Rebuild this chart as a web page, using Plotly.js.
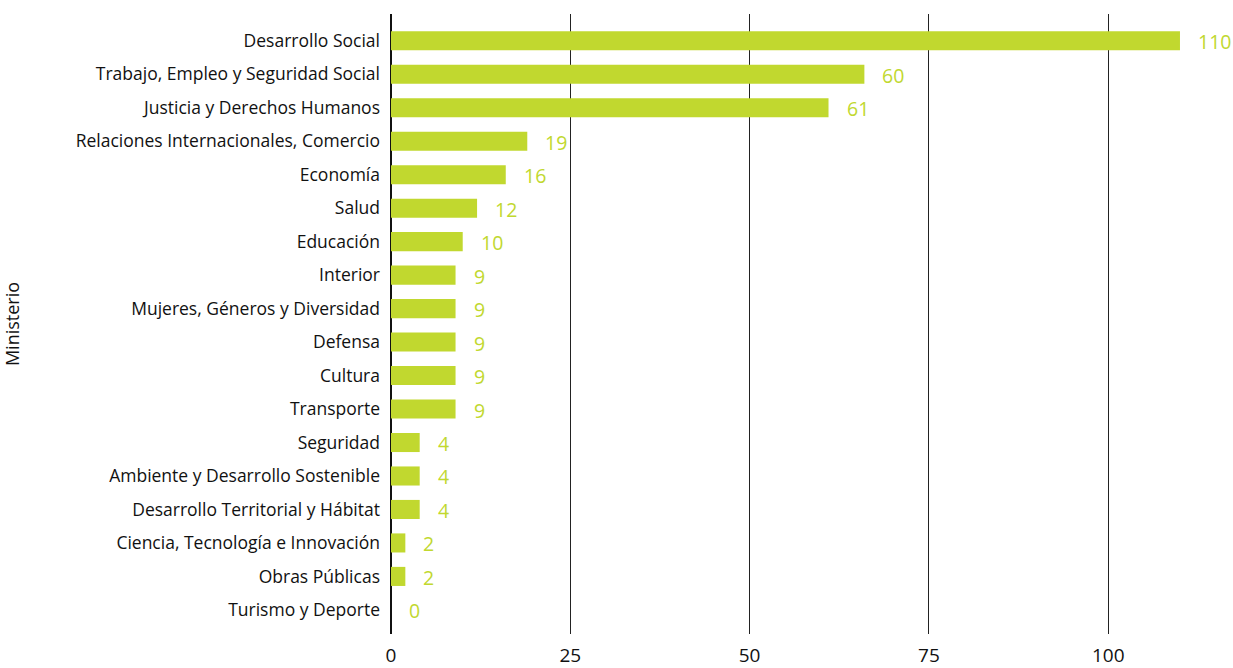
<!DOCTYPE html>
<html>
<head>
<meta charset="utf-8">
<script src="https://cdn.plot.ly/plotly-3.0.1.min.js"></script>
<style>html,body{margin:0;padding:0;background:#fff;}#chart{width:1233px;height:668px;}</style>
</head>
<body>
<div id="chart"></div>
<script>
const categories = [
  "Desarrollo Social",
  "Trabajo, Empleo y Seguridad Social",
  "Justicia y Derechos Humanos",
  "Relaciones Internacionales, Comercio",
  "Economía",
  "Salud",
  "Educación",
  "Interior",
  "Mujeres, Géneros y Diversidad",
  "Defensa",
  "Cultura",
  "Transporte",
  "Seguridad",
  "Ambiente y Desarrollo Sostenible",
  "Desarrollo Territorial y Hábitat",
  "Ciencia, Tecnología e Innovación",
  "Obras Públicas",
  "Turismo y Deporte"
];
const values = [110, 66, 61, 19, 16, 12, 10, 9, 9, 9, 9, 9, 4, 4, 4, 2, 2, 0];
const valueLabels = ["110", "60", "61", "19", "16", "12", "10", "9", "9", "9", "9", "9", "4", "4", "4", "2", "2", "0"];
const xTicks = [0, 25, 50, 75, 100];

const green = "#c1d82f";
const fontFam = "'Open Sans', 'Noto Sans', sans-serif";

const trace = {
  type: "bar",
  orientation: "h",
  x: values,
  y: categories,
  marker: {color: green},
  width: 0.57,
  hoverinfo: "x+y"
};

const annotations = categories.map((c, i) => ({
  x: values[i],
  y: c,
  xref: "x",
  yref: "y",
  text: valueLabels[i],
  showarrow: false,
  xanchor: "left",
  yanchor: "middle",
  xshift: 16,
  yshift: -1,
  font: {family: fontFam, size: 19.5, color: green}
}));

const layout = {
  width: 1233,
  height: 668,
  margin: {l: 391, r: 10, t: 14, b: 34},
  paper_bgcolor: "#fff",
  plot_bgcolor: "#fff",
  showlegend: false,
  font: {family: fontFam, color: "#111"},
  xaxis: {
    range: [0, 116],
    tickvals: xTicks,
    ticktext: xTicks.map(String),
    showgrid: true,
    gridcolor: "#222",
    gridwidth: 1,
    zeroline: true,
    zerolinecolor: "#111",
    zerolinewidth: 2,
    showline: false,
    ticks: "",
    ticklabelstandoff: 8,
    tickfont: {family: fontFam, size: 19, color: "#111"},
    fixedrange: true
  },
  yaxis: {
    type: "category",
    categoryorder: "array",
    categoryarray: categories,
    range: [17.72, -0.8],
    showgrid: false,
    zeroline: false,
    showline: false,
    ticks: "",
    ticklabelstandoff: 10,
    tickfont: {family: fontFam, size: 17.5, color: "#111"},
    title: {text: "Ministerio", font: {family: fontFam, size: 18, color: "#111"}, standoff: 56},
    fixedrange: true
  },
  annotations: annotations
};

Plotly.newPlot("chart", [trace], layout, {displayModeBar: false, staticPlot: true});
</script>
</body>
</html>
